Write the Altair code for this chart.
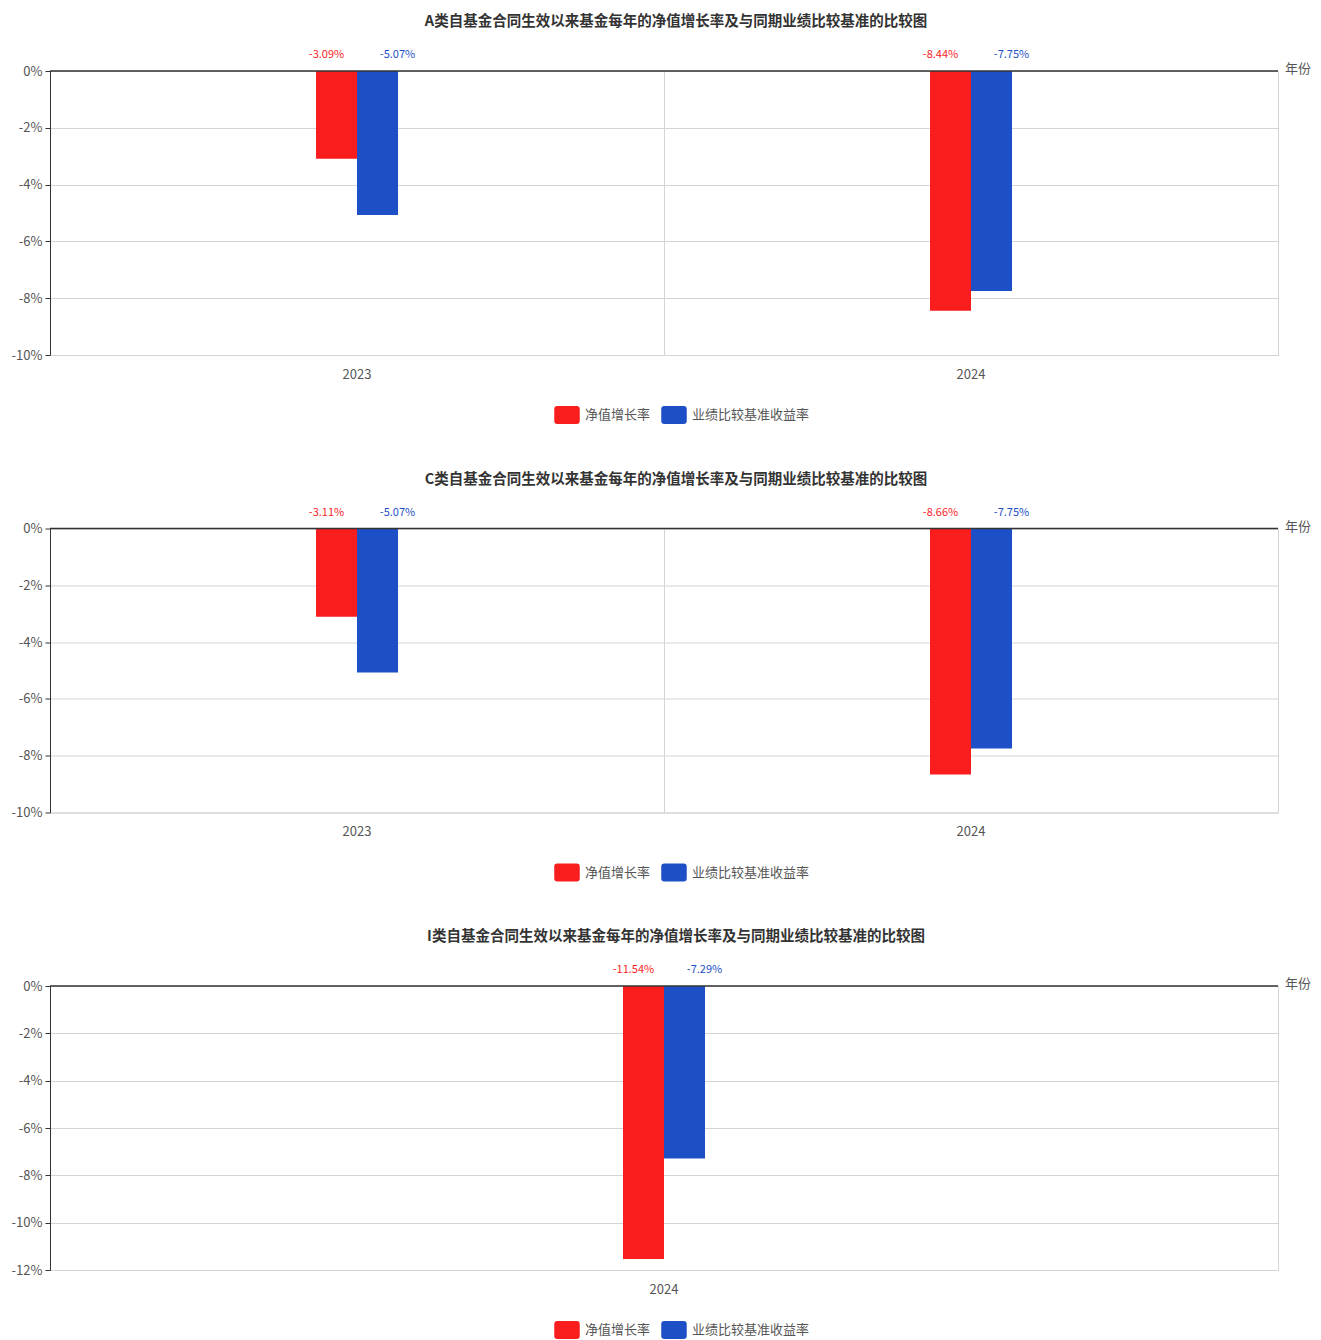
import altair as alt
import pandas as pd

FONT = "Noto Sans CJK SC"
series_names = ["净值增长率", "业绩比较基准收益率"]
series_colors = ["#f91d1e", "#1d50c6"]
label_dx = [-10, 20]

title_a = "A类自基金合同生效以来基金每年的净值增长率及与同期业绩比较基准的比较图"
years_a = ["2023", "2024"]
nav_a = [-3.09, -8.44]
bench_a = [-5.07, -7.75]

title_c = "C类自基金合同生效以来基金每年的净值增长率及与同期业绩比较基准的比较图"
years_c = ["2023", "2024"]
nav_c = [-3.11, -8.66]
bench_c = [-5.07, -7.75]

title_i = "I类自基金合同生效以来基金每年的净值增长率及与同期业绩比较基准的比较图"
years_i = ["2024"]
nav_i = [-11.54]
bench_i = [-7.29]

W, H = 1228, 284
BAR_W = 41

legend_symbol = ("M-0.76,-0.7 L0.76,-0.7 Q1,-0.7 1,-0.46 L1,0.46 Q1,0.7 0.76,0.7 "
                 "L-0.76,0.7 Q-1,0.7 -1,0.46 L-1,-0.46 Q-1,-0.7 -0.76,-0.7 Z")


def panel(title, years, nav, bench, ymin, legend_y):
    rows = []
    for yr, n, b in zip(years, nav, bench):
        rows.append({"year": yr, "series": series_names[0], "value": n, "label": f"{n:.2f}%"})
        rows.append({"year": yr, "series": series_names[1], "value": b, "label": f"{b:.2f}%"})
    df = pd.DataFrame(rows)

    band = W / len(years)

    x = alt.X("year:N", sort=years,
              scale=alt.Scale(paddingInner=0, paddingOuter=0),
              axis=alt.Axis(title=None, labelAngle=0, domain=False, ticks=False,
                            grid=True, bandPosition=0, gridColor="#d4d4d4",
                            labelColor="#555555", labelFontSize=13, labelFont=FONT,
                            labelPadding=13))
    xo = alt.XOffset("series:N", sort=series_names,
                     scale=alt.Scale(domain=series_names, paddingInner=0, paddingOuter=0,
                                     range=[band / 2 - BAR_W, band / 2 + BAR_W]))
    yscale = alt.Scale(domain=[ymin, 0], nice=False, zero=True)
    y = alt.Y("value:Q", scale=yscale,
              axis=alt.Axis(title=None, values=list(range(ymin, 1, 2)),
                            labelExpr="datum.value + '%'",
                            domainColor="#333333", tickColor="#333333", tickSize=5,
                            labelColor="#555555", labelFontSize=13, labelFont=FONT,
                            gridColor="#d4d4d4", labelPadding=3))

    bars = alt.Chart(df).mark_bar().encode(
        x=x, xOffset=xo, y=y,
        color=alt.Color("series:N", sort=series_names,
                        scale=alt.Scale(domain=series_names, range=series_colors),
                        legend=alt.Legend(title=None, orient="none", legendX=504, legendY=legend_y,
                                          direction="horizontal", symbolType=legend_symbol,
                                          symbolSize=650, symbolStrokeWidth=0,
                                          labelFontSize=13, labelFont=FONT,
                                          labelColor="#555555", columnPadding=10,
                                          labelOffset=5)),
    )

    layers = [bars]
    for s, c, dx in zip(series_names, series_colors, label_dx):
        layers.append(
            alt.Chart(df).transform_filter(alt.datum.series == s).mark_text(
                fontSize=11, font=FONT, color=c, baseline="middle", dx=dx
            ).encode(x=x, xOffset=xo, y=alt.value(-16), text="label:N")
        )

    zero = alt.Chart(pd.DataFrame({"v": [0]})).mark_rule(
        color="#333333", strokeWidth=1.5).encode(y=alt.Y("v:Q", scale=yscale))
    layers.append(zero)

    ttl = alt.Chart(pd.DataFrame({"t": [title]})).mark_text(
        fontSize=14.5, fontWeight="bold", font=FONT, color="#333333", baseline="middle"
    ).encode(x=alt.value(626), y=alt.value(-49), text="t:N")
    unit = alt.Chart(pd.DataFrame({"t": ["年份"]})).mark_text(
        fontSize=13, font=FONT, color="#555555", baseline="middle"
    ).encode(x=alt.value(1248), y=alt.value(-2), text="t:N")
    layers += [ttl, unit]

    return alt.layer(*layers).properties(width=W, height=H)


chart = alt.vconcat(
    panel(title_a, years_a, nav_a, bench_a, -10, 331),
    panel(title_c, years_c, nav_c, bench_c, -10, 331),
    panel(title_i, years_i, nav_i, bench_i, -12, 331),
    spacing=45.5,
).resolve_scale(
    color="independent", x="independent", y="independent", xOffset="independent"
).configure_view(stroke="#d4d4d4").properties(
    padding={"left": 2, "top": 5, "right": 0, "bottom": 0}
)

chart.save("out.html", embed_options={"renderer": "svg", "actions": False})
